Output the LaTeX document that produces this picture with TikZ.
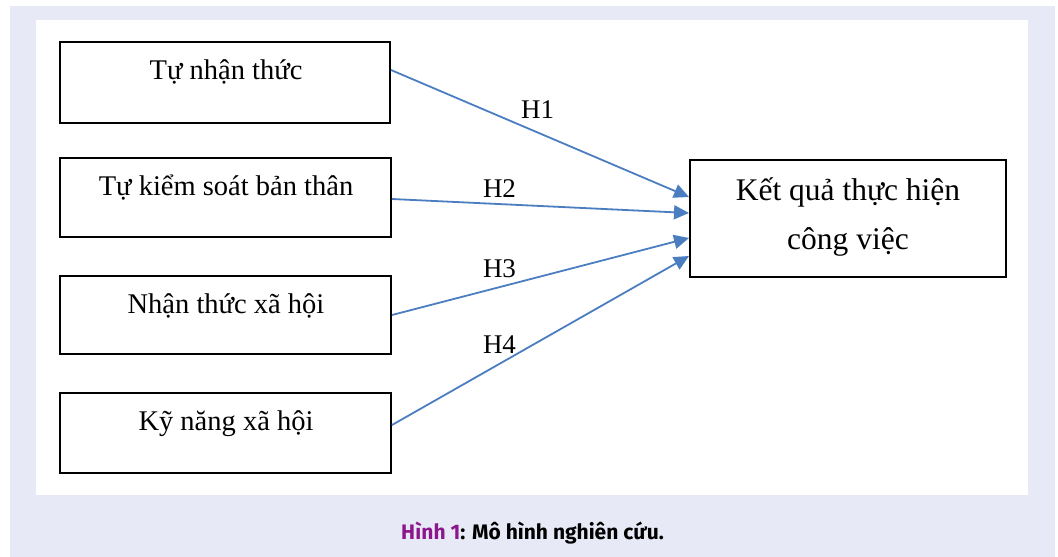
\documentclass[tikz,border=0pt]{standalone}
\usepackage{fontspec}
\setmainfont{Liberation Serif}
\newfontfamily\capfont{Fira Sans}
\usetikzlibrary{arrows.meta}
\definecolor{pagebg}{RGB}{231,234,246}
\definecolor{arrowblue}{RGB}{74,126,193}
\definecolor{capurple}{RGB}{140,22,140}
\tikzset{
  factorbox/.style={draw=black, line width=2pt, fill=white, inner sep=0pt},
  boxtext/.style={anchor=base, inner sep=0pt, font=\fontsize{28.5}{48}\selectfont},
  bigtext/.style={anchor=base, inner sep=0pt, font=\fontsize{31.5}{48}\selectfont},
  hlabel/.style={anchor=base, inner sep=0pt, font=\fontsize{27}{32}\selectfont},
  link/.style={draw=arrowblue, line width=1.8pt, -{Triangle[length=15pt,width=14pt]}},
}
\begin{document}
\begin{tikzpicture}[x=1pt,y=-1pt]
\useasboundingbox (0,0) rectangle (1058,557);
\fill[pagebg] (10,6) rectangle (1055,557);
\fill[white] (36,20) rectangle (1028,495);

\node[factorbox, minimum width=330pt, minimum height=81pt] (b1) at (225,82.5) {};
\node[factorbox, minimum width=331pt, minimum height=79pt] (b2) at (225.5,197.5) {};
\node[factorbox, minimum width=331pt, minimum height=78pt] (b3) at (225.5,315) {};
\node[factorbox, minimum width=331pt, minimum height=80pt] (b4) at (225.5,433) {};
\node[factorbox, minimum width=316pt, minimum height=117pt] (r) at (848,218.5) {};

\node[boxtext] (t1) at (226,79) {Tự nhận thức};
\node[boxtext] (t2) at (226,195) {Tự kiểm soát bản thân};
\node[boxtext] (t3) at (226,313) {Nhận thức xã hội};
\node[boxtext] (t4) at (226,430) {Kỹ năng xã hội};
\node[bigtext] (tr1) at (848,200) {Kết quả thực hiện};
\node[bigtext] (tr2) at (848,249) {công việc};

\draw[link] ([yshift=12.5pt]b1.east) -- ([yshift=21.5pt]r.west);
\draw[link] ([yshift=-1.5pt]b2.east) -- ([yshift=5.5pt]r.west);
\draw[link] (b3.east) -- ([yshift=-19.5pt]r.west);
\draw[link] ([yshift=8pt]b4.east) -- ([yshift=-37.5pt]r.west);

\node[hlabel] (h1) at (537.5,118) {H1};
\node[hlabel] (h2) at (499.5,197) {H2};
\node[hlabel] (h3) at (499.5,277) {H3};
\node[hlabel] (h4) at (499.5,353) {H4};

\node[anchor=base, inner sep=0pt, font=\capfont\bfseries\fontsize{21}{24}\selectfont] (cap) at (532.5,539)
  {\textcolor{capurple}{Hình 1}: Mô hình nghiên cứu.};
\end{tikzpicture}
\end{document}
